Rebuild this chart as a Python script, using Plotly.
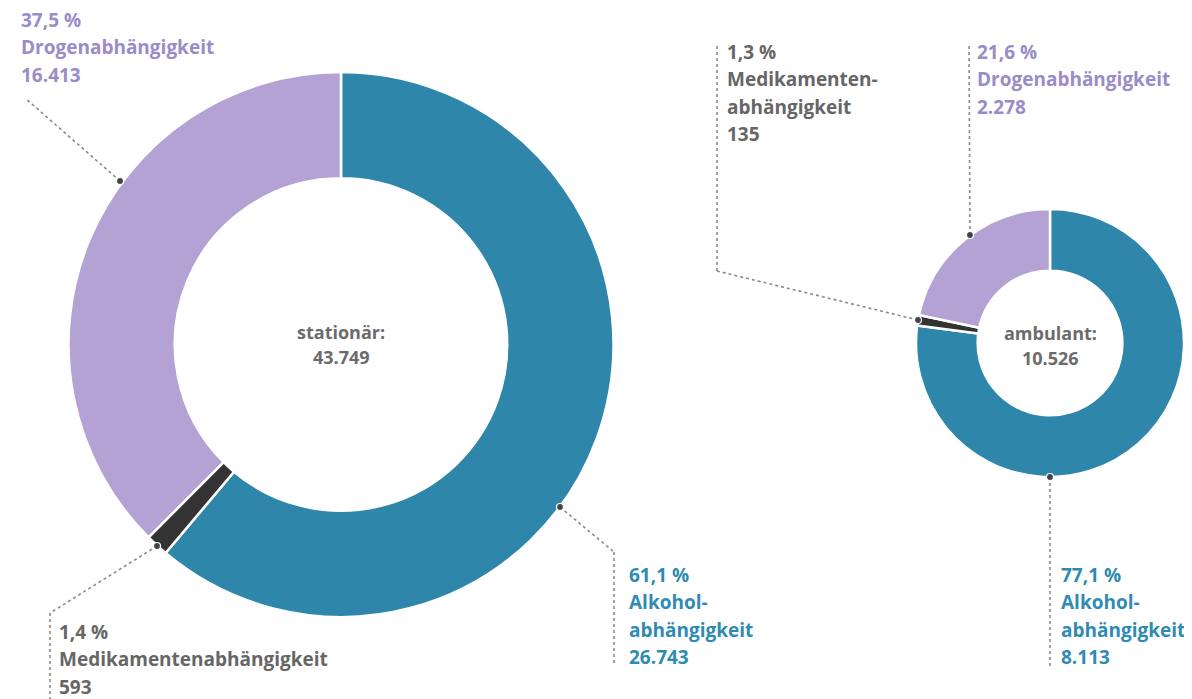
import plotly.graph_objects as go

# ---- data ----
categories = ["Alkoholabhängigkeit", "Medikamentenabhängigkeit", "Drogenabhängigkeit"]
stationaer_values = [26743, 593, 16413]
ambulant_values = [8113, 135, 2278]
center_titles = ["stationär:", "ambulant:"]

# label line breaking (text only)
stationaer_label_names = [["Alkohol-", "abhängigkeit"], ["Medikamentenabhängigkeit"], ["Drogenabhängigkeit"]]
ambulant_label_names = [["Alkohol-", "abhängigkeit"], ["Medikamenten-", "abhängigkeit"], ["Drogenabhängigkeit"]]

# ---- styles ----
slice_colors = ["#2e86aa", "#333333", "#b4a2d4"]
text_colors = ["#2f8bb1", "#666666", "#9a8bc9"]
W, H = 1184, 691
OFF = 8  # page body margin
FONT = "Open Sans"


def de_num(v):
    return f"{v:,}".replace(",", ".")


def de_pct(p):
    return f"{p:.1f}".replace(".", ",") + " %"


def px(x):
    return (x - OFF) / W


def py(y):
    return 1 - (y - OFF) / H


fig = go.Figure()

# pie domains (pixel boxes in screen coordinates)
pies = [
    (stationaer_values, (68, 614), (72, 617), 0.61),
    (ambulant_values, (916, 1184), (209, 477), 0.54),
]
for vals, (x0, x1), (y0, y1), hole in pies:
    fig.add_trace(go.Pie(
        values=vals, labels=categories, sort=False, direction="clockwise",
        rotation=0, hole=hole, textinfo="none", showlegend=False,
        marker=dict(colors=slice_colors, line=dict(color="white", width=2.5)),
        domain=dict(x=[px(x0), px(x1)], y=[py(y1), py(y0)]),
        hovertemplate="%{label}: %{value}<extra></extra>",
    ))

# center texts
centers = [(341, 332, 357), (1050, 333, 358)]
for (cx, ya, yb), title, vals in zip(centers, center_titles, [stationaer_values, ambulant_values]):
    for txt, yy in [(title, ya), (de_num(sum(vals)), yb)]:
        fig.add_annotation(x=px(cx), y=py(yy), xref="paper", yref="paper", text=f"<b>{txt}</b>",
                           showarrow=False, xanchor="center", yanchor="middle",
                           font=dict(family=FONT, size=18, color="#6b6b6b"))

# labels: (x, first line y) per category
label_pos = [
    [(628, 575), (58, 632), (20, 20)],
    [(1060, 575), (726, 52), (976, 52)],
]
line_gap = 27.3
for vals, names, poss in zip([stationaer_values, ambulant_values],
                             [stationaer_label_names, ambulant_label_names], label_pos):
    total = sum(vals)
    for i, (v, nm, (lx, ly)) in enumerate(zip(vals, names, poss)):
        lines = [de_pct(v / total * 100)] + nm + [de_num(v)]
        for k, t in enumerate(lines):
            fig.add_annotation(x=px(lx), y=py(ly + k * line_gap), xref="paper", yref="paper",
                               text=f"<b>{t}</b>", showarrow=False, xanchor="left", yanchor="middle",
                               borderpad=0,
                               font=dict(family=FONT, size=19, color=text_colors[i]))

# leader lines (pixel polylines) and anchor dots
leaders = [
    [(120, 181), (25, 98)],
    [(157, 546), (50, 613), (50, 699)],
    [(560, 507), (614, 552), (614, 666)],
    [(918, 320), (717, 271), (717, 45)],
    [(970, 235), (969, 45)],
    [(1050, 477), (1050, 666)],
]
for pts in leaders:
    for (xa, ya), (xb, yb) in zip(pts[:-1], pts[1:]):
        fig.add_shape(type="line", xref="paper", yref="paper",
                      x0=px(xa), y0=py(ya), x1=px(xb), y1=py(yb),
                      line=dict(color="#8a8a8a", width=1.6, dash="dot"))
    dx, dy = pts[0]
    r = 3.5
    fig.add_shape(type="circle", xref="paper", yref="paper",
                  x0=px(dx - r), x1=px(dx + r), y0=py(dy + r), y1=py(dy - r),
                  fillcolor="#444444", line=dict(color="white", width=1.2))

fig.update_layout(width=W, height=H, margin=dict(l=0, r=0, t=0, b=0),
                  paper_bgcolor="white", plot_bgcolor="white")
fig.write_html("out.html")
